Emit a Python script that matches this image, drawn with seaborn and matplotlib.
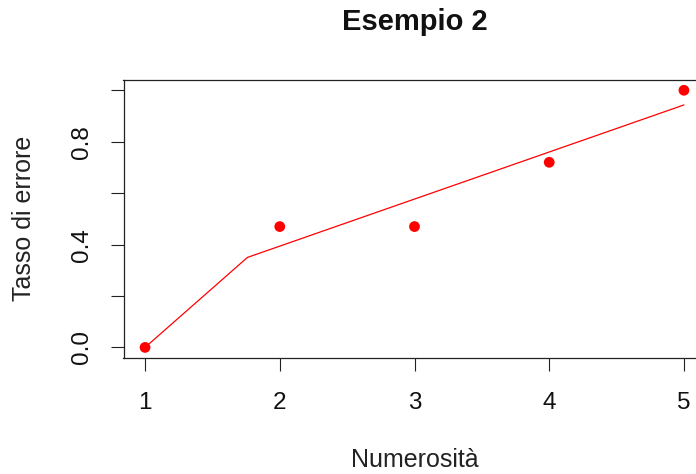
import matplotlib
matplotlib.use("Agg")
import matplotlib.pyplot as plt
import seaborn as sns
import pandas as pd

# data
numerosita = [1, 2, 3, 4, 5]
tasso_errore = [0.0, 0.47, 0.47, 0.72, 1.0]
fit_x = [1.0, 1.76, 5.0]
fit_y = [0.0, 0.35, 0.943]
x_ticks = [1, 2, 3, 4, 5]
y_ticks = [0.0, 0.2, 0.4, 0.6, 0.8, 1.0]
y_ticklabels = ["0.0", "", "0.4", "", "0.8", ""]

sns.set_style("ticks")
plt.rcParams['font.family'] = ['Liberation Sans', 'DejaVu Sans']

W, H = 696, 474
fig = plt.figure(figsize=(W / 100, H / 100), dpi=100)
left_px, right_px, top_px, bottom_px = 123.5, 705.5, 80.0, 357.7
ax = fig.add_axes([left_px / W, 1 - bottom_px / H,
                   (right_px - left_px) / W, (bottom_px - top_px) / H])

pts = pd.DataFrame({"n": numerosita, "t": tasso_errore})
fit = pd.DataFrame({"x": fit_x, "y": fit_y})

sns.lineplot(data=fit, x="x", y="y", ax=ax, color="red", linewidth=0.9,
             sort=False, estimator=None, zorder=2)
sns.scatterplot(data=pts, x="n", y="t", ax=ax, color="red", s=60,
                edgecolor="none", linewidth=0, zorder=3)

ax.set_xlim(0.84, 5.16)
ax.set_ylim(-0.04, 1.04)
ax.set_xticks(x_ticks)
ax.set_xticklabels([str(v) for v in x_ticks])
ax.set_yticks(y_ticks)
ax.set_yticklabels(y_ticklabels, rotation=90, va="center")

for s in ax.spines.values():
    s.set_color("#222222")
    s.set_linewidth(0.9)
    s.set_visible(True)

ax.tick_params(axis="both", direction="out", length=9.4, width=0.8,
               color="#222222", labelsize=17.5, labelcolor="#111111")
ax.tick_params(axis="x", pad=15.5)
ax.tick_params(axis="y", pad=12.5)

ax.set_xlabel("Numerosità", fontsize=18, color="#222222")
ax.set_ylabel("Tasso di errore", fontsize=18, color="#222222")
ax.xaxis.label.set_va("center")
ax.yaxis.label.set_va("center")
ax_h = bottom_px - top_px
ax_w = right_px - left_px
ax.xaxis.set_label_coords(0.5, (bottom_px - 460) / ax_h)
ax.yaxis.set_label_coords((24 - left_px) / ax_w, 0.5)

ax.set_title("Esempio 2", fontsize=21, fontweight="bold", pad=0,
             y=(bottom_px - 22.2) / ax_h, va="center", color="#111111")

fig.savefig("out.png", dpi=100)
